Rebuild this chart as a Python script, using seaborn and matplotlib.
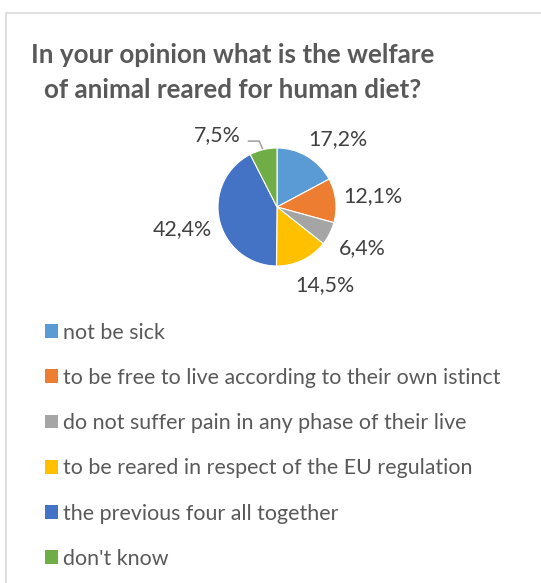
import numpy as np
import matplotlib
matplotlib.use("Agg")
import matplotlib.pyplot as plt
from matplotlib.patches import Rectangle
import seaborn as sns

sns.set_theme(style="white")
plt.rcParams["font.family"] = ["Lato", "DejaVu Sans"]

categories = [
    "not be sick",
    "to be free to live according to their own istinct",
    "do not suffer pain in any phase of their live",
    "to be reared in respect of the EU regulation",
    "the previous four all together",
    "don't know",
]
shares = [17.2, 12.1, 6.4, 14.5, 42.4, 7.5]
colors = ["#5B9BD5", "#ED7D31", "#A5A5A5", "#FFC000", "#4472C4", "#70AD47"]
title = "In your opinion what is the welfare\nof animal reared for human diet?"

W, H = 541, 583
fig = plt.figure(figsize=(W / 100, H / 100), dpi=100)
fig.patch.set_facecolor("white")
ax = fig.add_axes([0, 0, 1, 1])

cx, cy, r = 277, H - 207, 59
wedges, _ = ax.pie(shares, colors=colors, startangle=90, counterclock=False,
                   center=(cx, cy), radius=r, frame=True,
                   wedgeprops=dict(edgecolor="white", linewidth=0.8))
ax.set_xlim(0, W)
ax.set_ylim(0, H)
ax.set_aspect("auto")
ax.axis("off")

# chart frame
ax.add_patch(Rectangle((6, -20), W + 20, H - 13 + 20, fill=False,
                       edgecolor="#D9D9D9", linewidth=1.2))

# data labels placed around each slice's mid angle
label_dist = [1.54, 1.64, 1.60, 1.55, 1.65, 1.58]
label_turn = [-11, 0, 1, 6, 0, 26]
for w, v, d, t in zip(wedges, shares, label_dist, label_turn):
    mid = np.deg2rad((w.theta1 + w.theta2) / 2 + t)
    x = cx + d * r * np.cos(mid)
    y = cy + d * r * np.sin(mid)
    ax.text(x, y, f"{v:.1f}%".replace(".", ","), ha="center", va="center",
            fontsize=15.4, color="#404040")

# leader line for the small last slice
w = wedges[-1]
mid = np.deg2rad((w.theta1 + w.theta2) / 2)
ex, ey = cx + r * np.cos(mid), cy + r * np.sin(mid)
ax.plot([ex - 15.5, ex - 4, ex - 0.5], [ey + 8.5, ey + 8.5, ey + 0.5],
        color="#A6A6A6", linewidth=1.2, solid_capstyle="butt")

# two-line title, each line centred
for i, line in enumerate(title.split("\n")):
    fig.text(233 / W, 1 - (63 + 35 * i) / H, line, ha="center",
             va="baseline", fontsize=18.7, fontweight="bold",
             color="#595959")

leg = ax.legend(wedges, categories, loc="upper left",
                bbox_to_anchor=(36 / W, 1 - 314 / H), frameon=False,
                fontsize=15.4, labelcolor="#595959", handlelength=0.61,
                handleheight=0.61, handletextpad=0.23, labelspacing=1.18,
                borderaxespad=0)
for h in leg.legend_handles:
    h.set_edgecolor("none")

fig.savefig("out.png", dpi=100, facecolor="white")
